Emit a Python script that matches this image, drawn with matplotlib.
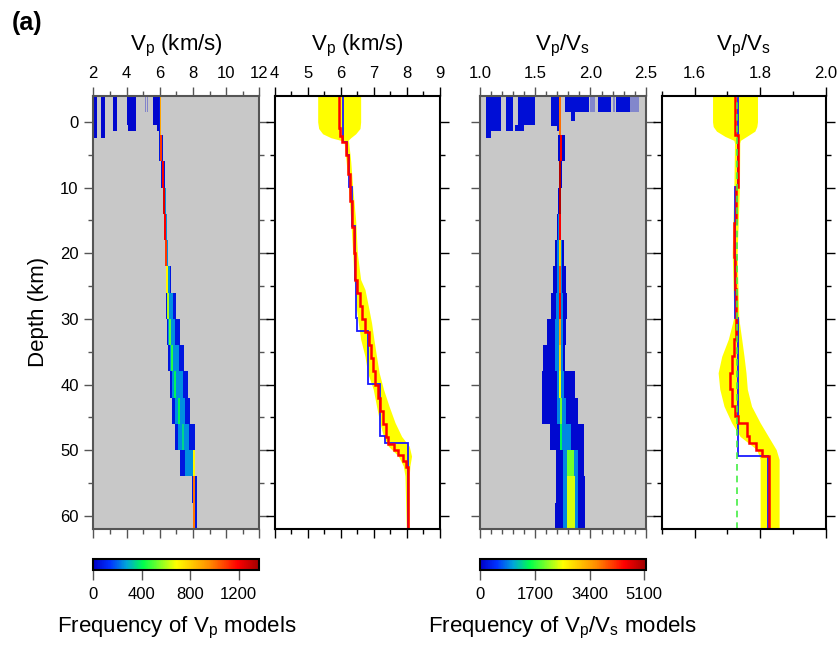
import numpy as np
import matplotlib
matplotlib.use("Agg")
import matplotlib.pyplot as plt
import matplotlib.cm as cm
from matplotlib.colors import LinearSegmentedColormap, Normalize
from matplotlib.ticker import MultipleLocator, FixedLocator, FormatStrFormatter

plt.rcParams['font.family'] = ['Liberation Sans', 'DejaVu Sans']
plt.rcParams['mathtext.fontset'] = 'custom'
plt.rcParams['mathtext.rm'] = 'Liberation Sans'
plt.rcParams['mathtext.it'] = 'Liberation Sans:italic'
plt.rcParams['mathtext.bf'] = 'Liberation Sans:bold'

# ---------------- data ----------------
depth_range = (-4, 62)

# Panel 1: Vp model-frequency heatmap (depth bins)
p1_edges = [-4, 2, 6, 10, 14, 18, 22, 26, 30, 34, 38, 42, 46, 50, 54, 58, 62]
p1_out_lo = [5.98, 5.98, 6.10, 6.18, 6.25, 6.32, 6.38, 6.40, 6.42, 6.48, 6.60, 6.75, 6.95, 7.25, 7.95, 7.98]
p1_out_hi = [6.10, 6.22, 6.32, 6.38, 6.45, 6.52, 6.70, 6.98, 7.22, 7.45, 7.68, 7.80, 8.10, 8.10, 8.25, 8.25]
p1_mid_lo = [6.00, 6.00, 6.12, 6.20, 6.28, 6.35, 6.42, 6.44, 6.50, 6.60, 6.75, 6.90, 7.10, 7.50, 8.00, 8.00]
p1_mid_hi = [6.08, 6.15, 6.28, 6.35, 6.42, 6.48, 6.60, 6.80, 6.95, 7.15, 7.40, 7.55, 7.75, 8.00, 8.15, 8.15]
p1_ridge_lo = [5.99, 6.02, 6.12, 6.20, 6.27, 6.34, 6.40, 6.46, 6.54, 6.69, 6.89, 7.09, 7.34, 7.99, 8.00, 8.00]
p1_ridge_hi = [6.09, 6.14, 6.24, 6.32, 6.39, 6.46, 6.52, 6.58, 6.66, 6.81, 7.01, 7.21, 7.46, 8.11, 8.12, 8.12]
p1_out_n = 60
p1_mid_n = 250
p1_ridge_n = [900, 1100, 1200, 1250, 1200, 1100, 700, 600, 500, 450, 400, 400, 350, 700, 1000, 1000]
p1_bar_top = [-4, -4, -4, -4, 0.4, -4, -4]
p1_bar_bot = [2.4, 2.4, 1.4, 0.4, 1.4, 0.4, 1.4]
p1_bar_lo = [2.04, 2.48, 3.20, 4.00, 4.10, 5.58, 5.85]
p1_bar_hi = [2.24, 2.72, 3.41, 4.57, 4.55, 5.92, 5.99]
p1_bar_n = 20
p1_faint_top = [-4, -4]
p1_faint_bot = [-1.5, -1.5]
p1_faint_lo = [5.10, 5.24]
p1_faint_hi = [5.18, 5.30]
p1_vmax = 1370
p1_cticks = [0, 400, 800, 1200]

# Panel 2: Vp profiles
p2_band_d = [-4, 0, 1.0, 1.8, 2.4, 2.8, 3.2, 6, 10, 15, 20, 24, 25.5, 28, 30.6, 33.1, 35.7, 38.2,
             40.7, 43.3, 45.8, 47.9, 49.4, 50.9, 52.4, 53.9, 62]
p2_band_lo = [5.30, 5.30, 5.33, 5.45, 5.70, 6.00, 6.10, 6.16, 6.23, 6.30, 6.36, 6.40, 6.43, 6.46,
              6.53, 6.60, 6.73, 6.81, 6.98, 7.08, 7.18, 7.29, 7.44, 7.74, 7.89, 7.94, 7.98]
p2_band_hi = [6.60, 6.60, 6.58, 6.45, 6.30, 6.22, 6.24, 6.30, 6.36, 6.45, 6.50, 6.60, 6.73, 6.83,
              6.93, 7.00, 7.08, 7.16, 7.29, 7.46, 7.64, 7.84, 8.07, 8.14, 8.09, 8.07, 8.07]
p2_blue_edges = [-4, 3.05, 5, 9.95, 15.9, 24.0, 29.9, 31.9, 39.9, 47.85, 48.86, 62]
p2_blue_vals = [6.08, 6.20, 6.25, 6.33, 6.43, 6.46, 6.48, 6.81, 7.185, 7.336, 8.022]
p2_red_edges = [-4, 0.9, 2.2, 3.0, 5, 8, 12, 16, 20, 24, 26, 28, 30, 32, 34, 36, 38, 40, 42, 44,
                46, 48, 49, 50, 50.8, 51.6, 52.5, 62]
p2_red_vals = [5.95, 5.98, 6.03, 6.15, 6.22, 6.28, 6.34, 6.39, 6.44, 6.50, 6.58, 6.65, 6.72, 6.84,
               6.92, 6.98, 7.04, 7.12, 7.20, 7.28, 7.36, 7.44, 7.60, 7.74, 7.88, 7.98, 8.03]

# Panel 3: Vp/Vs model-frequency heatmap
p3_edges = [-4, 2, 6, 10, 14, 18, 22, 26, 30, 34, 38, 42, 46, 50, 54, 58, 62]
p3_out_lo = [1.715, 1.71, 1.715, 1.71, 1.70, 1.68, 1.66, 1.64, 1.61, 1.57, 1.56, 1.56, 1.63, 1.69, 1.69, 1.68]
p3_out_hi = [1.735, 1.77, 1.745, 1.735, 1.735, 1.76, 1.78, 1.79, 1.78, 1.77, 1.86, 1.89, 1.94, 1.94, 1.95, 1.95]
p3_mid_lo = [1.72, 1.72, 1.72, 1.715, 1.71, 1.70, 1.70, 1.69, 1.68, 1.68, 1.70, 1.70, 1.72, 1.75, 1.75, 1.75]
p3_mid_hi = [1.735, 1.745, 1.735, 1.73, 1.73, 1.74, 1.74, 1.75, 1.75, 1.75, 1.76, 1.78, 1.82, 1.89, 1.89, 1.89]
p3_ridge_lo = [1.719, 1.721, 1.719, 1.716, 1.711, 1.713, 1.716, 1.716, 1.716, 1.716, 1.719, 1.721, 1.726, 1.785, 1.787, 1.787]
p3_ridge_hi = [1.737, 1.739, 1.737, 1.734, 1.729, 1.731, 1.734, 1.734, 1.734, 1.734, 1.737, 1.739, 1.744, 1.855, 1.857, 1.857]
p3_out_n = 100
p3_mid_n = 900
p3_ridge_n = [3800, 4500, 5000, 5000, 4500, 3000, 4000, 4500, 3500, 3000, 2500, 2000, 1500, 2000, 2400, 2400]
p3_bar_top = [-4, -4, -4, -4, 0.4, -4, -4, -4, -1.5, -4, -4]
p3_bar_bot = [2.4, 1.4, 1.4, 0.4, 1.4, 0.6, 1.4, -1.5, -0.2, -1.5, -1.5]
p3_bar_lo = [1.057, 1.10, 1.235, 1.34, 1.32, 1.64, 1.70, 1.77, 1.82, 2.068, 2.233]
p3_bar_hi = [1.10, 1.187, 1.302, 1.50, 1.40, 1.706, 1.72, 1.99, 1.856, 2.182, 2.354]
p3_bar_n = 150
p3_faint_top = [-4, -4, -4]
p3_faint_bot = [-1.5, -1.5, -1.5]
p3_faint_lo = [2.00, 2.20, 2.354]
p3_faint_hi = [2.04, 2.22, 2.44]
p3_vmax = 5150
p3_cticks = [0, 1700, 3400, 5100]

# Panel 4: Vp/Vs profiles
p4_band_d = [-4, 0, 0.7, 1.4, 2.2, 2.8, 3.2, 10, 20, 29.6, 30.6, 33.1, 35.7, 38.2, 40.7, 43.3,
             45.8, 47.9, 49.9, 51.4, 62]
p4_band_lo = [1.655, 1.655, 1.657, 1.667, 1.693, 1.720, 1.722, 1.720, 1.715, 1.720, 1.716, 1.703,
              1.683, 1.672, 1.677, 1.690, 1.713, 1.739, 1.790, 1.800, 1.800]
p4_band_hi = [1.792, 1.792, 1.790, 1.784, 1.759, 1.740, 1.738, 1.737, 1.730, 1.735, 1.737, 1.744,
              1.751, 1.757, 1.761, 1.774, 1.800, 1.825, 1.849, 1.858, 1.858]
p4_blue_edges = [-4, 9.95, 29.9, 50.9, 62]
p4_blue_vals = [1.734, 1.724, 1.734, 1.825]
p4_red_edges = [-4, 1.95, 9.9, 15.4, 20.5, 25.5, 30.1, 33.1, 35.7, 38.2, 40.7, 43.3, 44.8, 45.8,
                47.9, 48.9, 49.9, 50.9, 62]
p4_red_vals = [1.724, 1.732, 1.728, 1.721, 1.722, 1.726, 1.727, 1.720, 1.713, 1.708, 1.713, 1.723,
               1.733, 1.759, 1.766, 1.788, 1.805, 1.826]
p4_ref = 1.73

# ---------------- style ----------------
cmap = LinearSegmentedColormap.from_list("freq", [
    (0.00, (0.0, 0.0, 0.78)), (0.10, (0.0, 0.2, 1.0)), (0.20, (0.0, 0.65, 0.85)),
    (0.30, (0.0, 1.0, 0.3)), (0.50, (1.0, 1.0, 0.0)), (0.70, (1.0, 0.55, 0.0)),
    (0.87, (1.0, 0.0, 0.0)), (1.00, (0.62, 0.0, 0.0))])

W, H = 840, 646
fig = plt.figure(figsize=(W / 100, H / 100), dpi=100)


def px_axes(l, r, t, b):
    return fig.add_axes([l / W, 1 - b / H, (r - l) / W, (b - t) / H])


TOP, BOT = 95.7, 529.0
ax1 = px_axes(93.3, 259.3, TOP, BOT)
ax2 = px_axes(274.7, 440.0, TOP, BOT)
ax3 = px_axes(480.0, 645.7, TOP, BOT)
ax4 = px_axes(661.7, 825.7, TOP, BOT)


def style(ax, xlim, major, minor, fmt, frame, bg, show_y):
    ax.set_facecolor(bg)
    ax.set_xlim(*xlim)
    ax.set_ylim(depth_range[1], depth_range[0])
    ax.xaxis.set_major_locator(FixedLocator(major))
    ax.xaxis.set_minor_locator(MultipleLocator(minor))
    ax.xaxis.set_major_formatter(FormatStrFormatter(fmt))
    ax.yaxis.set_major_locator(MultipleLocator(10))
    ax.yaxis.set_minor_locator(MultipleLocator(5))
    ax.tick_params(which='both', direction='out', top=True, bottom=True, left=True, right=True,
                   labeltop=True, labelbottom=False, labelleft=show_y, labelright=False,
                   labelsize=12, color=frame, width=1.0, pad=4)
    ax.tick_params(which='major', length=6.5)
    ax.tick_params(which='minor', length=3.5)
    for s in ax.spines.values():
        s.set_color(frame)
        s.set_linewidth(1.5)


def blocks(ax, top, bot, lo, hi, n, vmax, alpha=1.0):
    norm = Normalize(0, vmax)
    n = np.broadcast_to(np.asarray(n, dtype=float), np.shape(lo))
    ax.barh(top, np.subtract(hi, lo), height=np.subtract(bot, top), left=lo, align='edge',
            color=cmap(norm(n)), linewidth=0, alpha=alpha)


# Panel 1
style(ax1, (2, 12), [2, 4, 6, 8, 10, 12], 1, '%g', '#555555', '#c8c8c8', True)
blocks(ax1, p1_faint_top, p1_faint_bot, p1_faint_lo, p1_faint_hi, p1_bar_n, p1_vmax, alpha=0.35)
blocks(ax1, p1_bar_top, p1_bar_bot, p1_bar_lo, p1_bar_hi, p1_bar_n, p1_vmax)
e1 = np.array(p1_edges)
blocks(ax1, e1[:-1], e1[1:], p1_out_lo, p1_out_hi, p1_out_n, p1_vmax)
blocks(ax1, e1[:-1], e1[1:], p1_mid_lo, p1_mid_hi, p1_mid_n, p1_vmax)
blocks(ax1, e1[:-1], e1[1:], p1_ridge_lo, p1_ridge_hi, p1_ridge_n, p1_vmax)

# Panel 2
style(ax2, (4, 9), [4, 5, 6, 7, 8, 9], 0.5, '%g', 'black', 'white', False)
ax2.fill_betweenx(p2_band_d, p2_band_lo, p2_band_hi, color='#ffff00', linewidth=0)
ax2.stairs(p2_blue_vals, p2_blue_edges, orientation='horizontal', baseline=None,
           color='#1a1aff', linewidth=1.3)
ax2.stairs(p2_red_vals, p2_red_edges, orientation='horizontal', baseline=None,
           color='#ff0000', linewidth=1.8)

# Panel 3
style(ax3, (1.0, 2.5), [1.0, 1.5, 2.0, 2.5], 0.1, '%.1f', '#555555', '#c8c8c8', False)
blocks(ax3, p3_faint_top, p3_faint_bot, p3_faint_lo, p3_faint_hi, p3_bar_n, p3_vmax, alpha=0.35)
blocks(ax3, p3_bar_top, p3_bar_bot, p3_bar_lo, p3_bar_hi, p3_bar_n, p3_vmax)
e3 = np.array(p3_edges)
blocks(ax3, e3[:-1], e3[1:], p3_out_lo, p3_out_hi, p3_out_n, p3_vmax)
blocks(ax3, e3[:-1], e3[1:], p3_mid_lo, p3_mid_hi, p3_mid_n, p3_vmax)
blocks(ax3, e3[:-1], e3[1:], p3_ridge_lo, p3_ridge_hi, p3_ridge_n, p3_vmax)

# Panel 4
style(ax4, (1.5, 2.0), [1.6, 1.8, 2.0], 0.1, '%.1f', 'black', 'white', False)
ax4.fill_betweenx(p4_band_d, p4_band_lo, p4_band_hi, color='#ffff00', linewidth=0)
ax4.axvline(p4_ref, color='#44ee44', linewidth=1.2, dashes=(4, 3))
ax4.stairs(p4_blue_vals, p4_blue_edges, orientation='horizontal', baseline=None,
           color='#1a1aff', linewidth=1.3)
ax4.stairs(p4_red_vals, p4_red_edges, orientation='horizontal', baseline=None,
           color='#ff0000', linewidth=1.8)

# Titles
ty = 1 + (TOP - 50) / (BOT - TOP)
vp_km = r'V$_{\mathrm{p}}$ (km/s)'
vpvs = r'V$_{\mathrm{p}}$/V$_{\mathrm{s}}$'
for ax, t in [(ax1, vp_km), (ax2, vp_km), (ax3, vpvs), (ax4, vpvs)]:
    ax.text(0.5, ty, t, transform=ax.transAxes, ha='center', va='baseline', fontsize=16)

ax1.set_ylabel('Depth (km)', fontsize=16, labelpad=8)
fig.text(12 / W, 1 - 30 / H, '(a)', fontsize=18, fontweight='bold', va='baseline', ha='left')

# Colorbars
for (l, r), vmax, ticks, lab in [((93.3, 259.3), p1_vmax, p1_cticks, r'Frequency of V$_{\mathrm{p}}$ models'),
                                 ((480.0, 646.0), p3_vmax, p3_cticks,
                                  r'Frequency of V$_{\mathrm{p}}$/V$_{\mathrm{s}}$ models')]:
    cax = px_axes(l, r, 559.3, 570.0)
    cb = fig.colorbar(cm.ScalarMappable(norm=Normalize(0, vmax), cmap=cmap), cax=cax,
                      orientation='horizontal', ticks=ticks)
    cb.outline.set_linewidth(1.5)
    cax.tick_params(length=7, width=1.0, color='#555555', labelsize=12, direction='out', pad=5)
    fig.text((l + r) / 2 / W, 1 - 632 / H, lab, ha='center', va='baseline', fontsize=16)

fig.savefig('out.png', dpi=100)
